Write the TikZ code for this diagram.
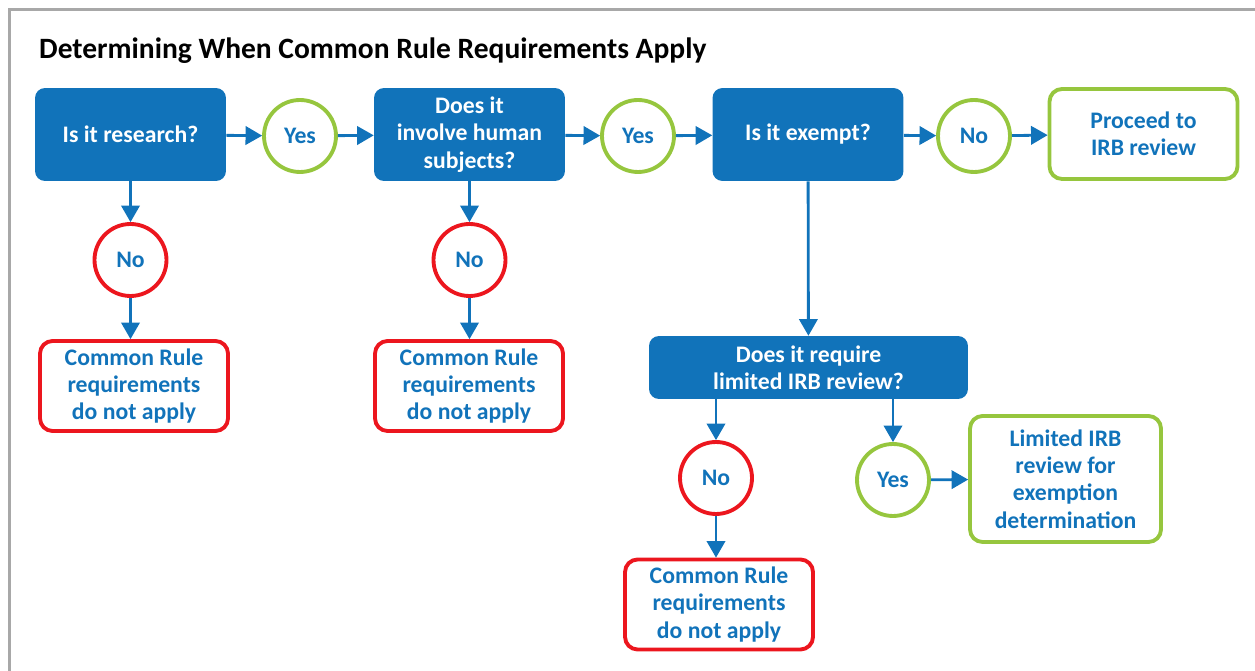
\documentclass[tikz,border=0pt]{standalone}
\usepackage{fontspec}
\setmainfont{Carlito}
\usetikzlibrary{arrows}

\definecolor{irbblue}{RGB}{17,115,186}
\definecolor{irbgreen}{RGB}{150,198,62}
\definecolor{irbred}{RGB}{236,22,30}
\definecolor{framegray}{RGB}{168,168,168}

\begin{document}
\begin{tikzpicture}[x = 0.02cm, y = -0.02cm, every node/.style = {align = center,
	font = \bfseries\fontsize{13.5}{15.5}\selectfont},
	question/.style = {rectangle, rounded corners = 0.2cm, fill = irbblue, text = white,
		minimum width = 3.82cm, minimum height = 1.86cm},
	yescircle/.style = {circle, draw = irbgreen, line width = 2.2pt, text = irbblue,
		minimum size = 1.44cm, inner sep = 0pt},
	nocircle/.style = {yescircle, draw = irbred},
	outcome/.style = {rectangle, rounded corners = 0.25cm, draw = irbred, line width = 2.2pt,
		text = irbblue, minimum width = 3.76cm, minimum height = 1.8cm},
	flow/.style = {-triangle 60, draw = irbblue, line width = 1.6pt}]

	\useasboundingbox (0, 0) rectangle (1255, 671);
	\draw [framegray, line width = 1.6pt] (9.5, 671) -- (9.5, 9.5) -- (1255, 9.5);

		\node (title)  at (  33,  51) [anchor = west, font = \bfseries\fontsize{16.8}{20}\selectfont] {Determining When Common Rule Requirements Apply};

		\node (research) at ( 130.5, 134.5) [question] {Is it research?};
		\node (yes1)     at ( 300,   136)   [yescircle] {Yes};
		\node (human)    at ( 469.5, 134.5) [question] {Does it\\involve human\\subjects?};
		\node (yes2)     at ( 638,   136)   [yescircle] {Yes};
		\node (exempt)   at ( 808,   134.5) [question] {Is it exempt?};
		\node (no3)      at ( 974,   136)   [yescircle] {No};
		\node (proceed)  at (1143.5, 134)   [outcome, draw = irbgreen] {Proceed to\\IRB review};

		\node (no1)      at ( 130.5, 260)   [nocircle] {No};
		\node (notapp1)  at ( 134,   386)   [outcome] {Common Rule\\requirements\\do not apply};
		\node (no2)      at ( 469.5, 260)   [nocircle] {No};
		\node (notapp2)  at ( 469,   386)   [outcome] {Common Rule\\requirements\\do not apply};

		\node (limited)  at ( 808.5, 367.5) [question, minimum width = 6.38cm, minimum height = 1.26cm] {Does it require\\limited IRB review?};
		\node (no4)      at ( 716,   478)   [nocircle] {No};
		\node (notapp3)  at ( 719,   604.5) [outcome] {Common Rule\\requirements\\do not apply};
		\node (yes4)     at ( 893,   480)   [yescircle] {Yes};
		\node (limrev)   at (1065.5, 479)   [outcome, draw = irbgreen, minimum width = 3.82cm, minimum height = 2.52cm] {Limited IRB\\review for\\exemption\\determination};

	    \foreach \from/\to in {research/yes1, yes1/human, human/yes2, yes2/exempt, exempt/no3, no3/proceed,
	    	research/no1, human/no2, exempt/limited, yes4/limrev}
	    	\path (\from) edge [flow] (\to);

	    \foreach \from/\to in {no1/notapp1, no2/notapp2, no4/notapp3}
	    	\path (\from) edge [flow] (\from |- \to.north);

	    \foreach \to in {no4, yes4}
	    	\path (\to |- limited.south) edge [flow] (\to);

\end{tikzpicture}
\end{document}
